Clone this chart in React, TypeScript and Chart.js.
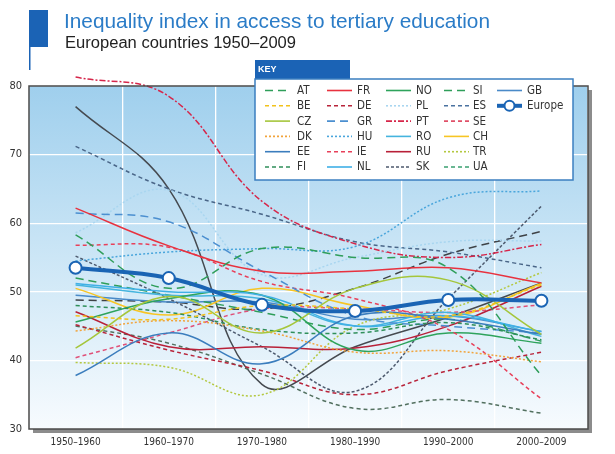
import React, { useEffect, useRef } from "react";
import { Chart, registerables } from "chart.js";
Chart.register(...registerables);

const periods = ["1950–1960", "1960–1970", "1970–1980", "1980–1990", "1990–2000", "2000–2009"];
const yMin = 30;
const yMax = 80;
const yStep = 10;

const EUROPE = [53.5, 52.0, 48.1, 47.2, 48.8, 48.7];
const AT = [58.3, 50.5, 56.3, 55.0, 53.5, 37.8];
const BE = [46.5, 46.0, 48.0, 47.5, 46.5, 51.0];
const CZ = [41.8, 49.3, 44.0, 50.5, 51.7, 43.8];
const DK = [44.3, 45.8, 44.3, 41.2, 41.4, 39.8];
const EE = [37.8, 44.0, 39.5, 46.5, 46.0, 43.8];
const FI = [48.0, 47.0, 44.5, 44.0, 45.5, 43.0];
const FR = [62.2, 56.7, 53.0, 53.0, 53.5, 51.3];
const DE = [45.2, 41.5, 38.5, 35.0, 38.5, 41.2];
const GR = [61.5, 60.2, 53.0, 46.5, 45.0, 44.0];
const HU = [54.5, 55.8, 56.3, 56.6, 63.7, 64.7];
const IE = [56.8, 56.5, 51.5, 49.0, 44.5, 34.4];
const NL = [51.2, 50.0, 49.5, 45.0, 46.5, 44.2];
const NO = [45.6, 49.0, 49.5, 41.5, 44.0, 42.5];
const PL = [58.6, 64.8, 52.5, 55.0, 57.3, 57.4];
const PT = [81.3, 78.5, 63.2, 57.0, 55.0, 56.9];
const RO = [51.0, 49.5, 49.0, 45.0, 47.0, 43.5];
const RU = [47.1, 42.0, 42.0, 41.8, 45.0, 50.8];
const SK = [55.2, 49.0, 42.0, 35.5, 49.0, 62.5];
const SI = [52.0, 49.5, 47.0, 44.5, 46.0, 42.8];
const ES = [71.2, 65.0, 61.3, 57.3, 55.8, 53.5];
const SE = [40.4, 44.0, 47.5, 47.5, 47.0, 48.1];
const CH = [50.5, 46.6, 50.5, 48.0, 46.3, 51.2];
const TR = [39.7, 39.0, 35.0, 45.0, 47.5, 52.8];
const UA = [45.0, 42.5, 38.0, 33.0, 34.3, 32.3];
const GB = [49.5, 48.5, 48.5, 46.0, 46.5, 44.2];
const UNNAMED_SOLID = [77.0, 65.0, 36.5, 42.0, 46.3, 51.3];
const UNNAMED_LONGDASH = [48.8, 48.5, 47.5, 50.5, 55.5, 58.8];

const LONG = [8, 5];
const SHORT = [4, 3];
const DOT = [2, 2];
const DASHDOT = [6, 2, 2, 2];
const SOLID: number[] = [];

type Spec = { label: string; data: number[]; color: string; key: string; dash: number[] };
const series: Spec[] = [
  { label: "AT", data: AT, color: "#2f9e5a", key: "#2f9e5a", dash: LONG },
  { label: "BE", data: BE, color: "#f2c21b", key: "#f2c21b", dash: SHORT },
  { label: "CZ", data: CZ, color: "#a5c63b", key: "#a5c63b", dash: SOLID },
  { label: "DK", data: DK, color: "#f2a43c", key: "#f2a43c", dash: DOT },
  { label: "EE", data: EE, color: "#3b7dbd", key: "#3b7dbd", dash: SOLID },
  { label: "FI", data: FI, color: "#2f8f5a", key: "#2f8f5a", dash: SHORT },
  { label: "FR", data: FR, color: "#e8323f", key: "#e8323f", dash: SOLID },
  { label: "DE", data: DE, color: "#b8243a", key: "#b8243a", dash: SHORT },
  { label: "GR", data: GR, color: "#4b8fd0", key: "#4b8fd0", dash: LONG },
  { label: "HU", data: HU, color: "#4aa6dc", key: "#4aa6dc", dash: DOT },
  { label: "IE", data: IE, color: "#e8405a", key: "#e8405a", dash: SHORT },
  { label: "NL", data: NL, color: "#3fb0e6", key: "#3fb0e6", dash: SOLID },
  { label: "NO", data: NO, color: "#2ea35c", key: "#2ea35c", dash: SOLID },
  { label: "PL", data: PL, color: "#a9d6f0", key: "#a9d6f0", dash: DOT },
  { label: "PT", data: PT, color: "#d6264a", key: "#d6264a", dash: DASHDOT },
  { label: "RO", data: RO, color: "#45b4de", key: "#45b4de", dash: SOLID },
  { label: "RU", data: RU, color: "#b82038", key: "#b82038", dash: SOLID },
  { label: "SK", data: SK, color: "#4d5a6e", key: "#4d5a6e", dash: [3, 2] },
  { label: "SI", data: SI, color: "#2f9e5a", key: "#2f9e5a", dash: LONG },
  { label: "ES", data: ES, color: "#4a6688", key: "#4a72a0", dash: SHORT },
  { label: "SE", data: SE, color: "#e05078", key: "#e05068", dash: SHORT },
  { label: "CH", data: CH, color: "#f7c524", key: "#f7c524", dash: SOLID },
  { label: "TR", data: TR, color: "#b4c840", key: "#b4c840", dash: DOT },
  { label: "UA", data: UA, color: "#52705f", key: "#3aa070", dash: SHORT },
  { label: "GB", data: GB, color: "#4a8ac8", key: "#4a8ac8", dash: SOLID },
  { label: "", data: UNNAMED_SOLID, color: "#454a50", key: "#454a50", dash: SOLID },
  { label: "", data: UNNAMED_LONGDASH, color: "#3e4246", key: "#3e4246", dash: LONG },
];

const keyColumns = [
  ["AT", "BE", "CZ", "DK", "EE", "FI"],
  ["FR", "DE", "GR", "HU", "IE", "NL"],
  ["NO", "PL", "PT", "RO", "RU", "SK"],
  ["SI", "ES", "SE", "CH", "TR", "UA"],
  ["GB", "Europe"],
];

const EUROPE_COLOR = "#1a64b4";
const NARROW = "'Liberation Sans Narrow', 'DejaVu Sans Condensed', Arial, sans-serif";
const SANS = "'Liberation Sans', Arial, sans-serif";

function fitText(ctx: CanvasRenderingContext2D, text: string, x: number, y: number, width: number) {
  const w = ctx.measureText(text).width;
  ctx.save();
  ctx.translate(x, y);
  ctx.scale(width / w, 1);
  ctx.fillText(text, 0, 0);
  ctx.restore();
}

const decorPlugin = {
  id: "decor",
  beforeDraw(chart: any) {
    const { ctx, chartArea: a } = chart;
    ctx.save();
    ctx.fillStyle = "#ffffff";
    ctx.fillRect(0, 0, chart.width, chart.height);
    // title block
    ctx.fillStyle = "#1b63b5";
    ctx.fillRect(29, 10, 19, 37);
    ctx.fillRect(29, 47, 1.5, 23);
    ctx.fillStyle = "#2b7cc7";
    ctx.font = `21px ${SANS}`;
    ctx.textBaseline = "alphabetic";
    fitText(ctx, "Inequality index in access to tertiary education", 64, 28, 426);
    ctx.fillStyle = "#222222";
    ctx.font = `16px ${SANS}`;
    fitText(ctx, "European countries 1950–2009", 65, 48, 231);
    // plot background
    const g = ctx.createLinearGradient(0, a.top, 0, a.bottom);
    g.addColorStop(0, "#9fcfed");
    g.addColorStop(0.5, "#cce6f6");
    g.addColorStop(1, "#f7fbfe");
    ctx.fillStyle = g;
    ctx.fillRect(a.left, a.top, a.right - a.left, a.bottom - a.top);
    ctx.restore();
  },
  afterDatasetsDraw(chart: any) {
    const { ctx, chartArea: a } = chart;
    ctx.save();
    ctx.fillStyle = "#8c8c8c";
    ctx.fillRect(a.left + 4, a.bottom, a.right - a.left, 4);
    ctx.fillRect(a.right, a.top + 4, 4, a.bottom - a.top);
    ctx.strokeStyle = "#4a4a4a";
    ctx.lineWidth = 1.5;
    ctx.strokeRect(a.left, a.top, a.right - a.left, a.bottom - a.top);
    ctx.restore();
  },
  afterDraw(chart: any) {
    const { ctx } = chart;
    ctx.save();
    // KEY tab
    ctx.fillStyle = "#1b63b5";
    ctx.fillRect(255, 60, 95, 19);
    ctx.fillStyle = "#ffffff";
    ctx.font = `bold 9px ${SANS}`;
    ctx.textBaseline = "middle";
    ctx.textAlign = "left";
    ctx.fillText("KEY", 258, 70);
    // box
    ctx.fillStyle = "#ffffff";
    ctx.fillRect(255, 79, 318, 101);
    ctx.strokeStyle = "#3b7fc0";
    ctx.lineWidth = 1.5;
    ctx.strokeRect(255, 79, 318, 101);
    const sampleX = [265, 327, 386, 444, 497];
    const labelX = [297, 357, 416, 473, 527];
    const rowY = (i: number) => 90.5 + 15.3 * i;
    ctx.font = `11.5px ${NARROW}`;
    keyColumns.forEach((col, ci) => {
      col.forEach((code, ri) => {
        const y = rowY(ri);
        const x0 = sampleX[ci];
        if (code === "Europe") {
          ctx.setLineDash([]);
          ctx.strokeStyle = EUROPE_COLOR;
          ctx.lineWidth = 4;
          ctx.beginPath();
          ctx.moveTo(x0, y);
          ctx.lineTo(x0 + 25, y);
          ctx.stroke();
          ctx.beginPath();
          ctx.arc(x0 + 12.5, y, 5, 0, Math.PI * 2);
          ctx.fillStyle = "#ffffff";
          ctx.fill();
          ctx.lineWidth = 2;
          ctx.stroke();
        } else {
          const s = series.find((d) => d.label === code)!;
          ctx.setLineDash(s.dash);
          ctx.strokeStyle = s.key;
          ctx.lineWidth = 1.6;
          ctx.beginPath();
          ctx.moveTo(x0, y);
          ctx.lineTo(x0 + 25, y);
          ctx.stroke();
        }
        ctx.setLineDash([]);
        ctx.fillStyle = "#333333";
        ctx.fillText(code, labelX[ci], y + 0.5);
      });
    });
    ctx.restore();
  },
};

export default function App() {
  const ref = useRef<HTMLCanvasElement | null>(null);
  useEffect(() => {
    if (!ref.current) return;
    const datasets: any[] = [
      {
        label: "Europe",
        data: EUROPE,
        borderColor: EUROPE_COLOR,
        borderWidth: 4,
        pointRadius: 6,
        pointBackgroundColor: "#ffffff",
        pointBorderColor: EUROPE_COLOR,
        pointBorderWidth: 2,
        tension: 0.4,
        order: 0,
      },
      ...series.map((s) => ({
        label: s.label,
        data: s.data,
        borderColor: s.color,
        borderWidth: 1.5,
        borderDash: s.dash,
        pointRadius: 0,
        tension: 0.4,
        clip: false,
        order: 1,
      })),
    ];
    const chart = new Chart(ref.current, {
      type: "line",
      data: { labels: periods, datasets },
      options: {
        animation: false,
        responsive: false,
        devicePixelRatio: 1,
        layout: { padding: { left: 0, top: 86, right: 27, bottom: 0 } },
        plugins: { legend: { display: false }, tooltip: { enabled: false } },
        scales: {
          x: {
            offset: true,
            grid: { color: "#ffffff", lineWidth: 1.3, offset: true, drawTicks: false },
            border: { display: false },
            ticks: { color: "#333", font: { family: NARROW, size: 10 }, padding: 7, maxRotation: 0 },
            afterFit: (s: any) => { s.height = 25; },
          },
          y: {
            min: yMin,
            max: yMax,
            grid: { color: "#ffffff", lineWidth: 1.3, drawTicks: false },
            border: { display: false },
            ticks: { stepSize: yStep, color: "#333", font: { family: NARROW, size: 11 }, padding: 7 },
            afterFit: (s: any) => { s.width = 29; },
          },
        },
      },
      plugins: [decorPlugin],
    });
    return () => chart.destroy();
  }, []);
  return (
    <div style={{ position: "fixed", left: 0, top: 0, width: 615, height: 454, background: "#fff" }}>
      <canvas ref={ref} width={615} height={454} style={{ width: 615, height: 454, display: "block" }} />
    </div>
  );
}
